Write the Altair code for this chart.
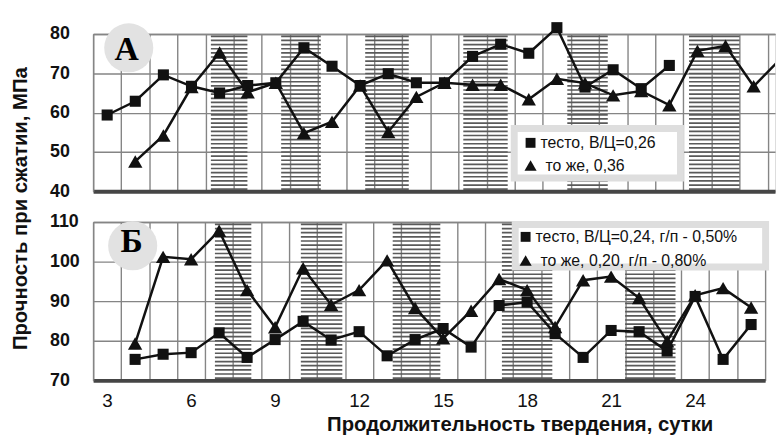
import altair as alt
import pandas as pd
import numpy as np

# ---------------- data ----------------
days_a_sq = list(range(3, 24))
a_sq = [59.4, 62.9, 69.6, 66.7, 65.0, 66.9, 67.6, 76.5, 71.8, 66.9, 69.9,
        67.6, 67.6, 74.3, 77.4, 75.1, 81.6, 66.5, 70.9, 66.1, 72.0]
days_a_tr = list(range(4, 28))
a_tr = [47.6, 54.2, 66.5, 75.3, 65.2, 67.6, 54.8, 57.7, 66.9, 55.1, 64.0, 67.6,
        67.1, 67.1, 63.4, 68.6, 67.5, 64.4, 65.5, 61.9, 75.7, 77.0, 66.7, 74.0]

days_b = list(range(4, 27))
b_sq = [75.3, 76.6, 77.0, 82.0, 75.8, 80.3, 84.9, 80.2, 82.3, 76.2, 80.3, 83.1,
        78.4, 88.9, 89.8, 81.8, 75.8, 82.6, 82.3, 77.4, 91.2, 75.3, 84.1]
b_tr = [79.3, 101.2, 100.6, 107.8, 92.8, 83.4, 98.3, 89.1, 92.8, 100.3, 88.3, 80.6,
        87.6, 95.6, 92.8, 83.5, 95.3, 96.2, 90.8, 79.9, 91.5, 93.3, 88.4]

legend_a = ["тесто, В/Ц=0,26", "то же, 0,36"]
legend_b = ["тесто, В/Ц=0,24, г/п - 0,50%", "то же, 0,20, г/п - 0,80%"]

bands_a = [(6.69, 7.99), (9.19, 10.6), (12.18, 13.73), (15.67, 17.25), (19.37, 20.81), (23.7, 25.5)]
bands_b = [(6.85, 8.15), (9.92, 11.4), (13.2, 14.9), (17.1, 18.9), (21.5, 23.3)]

x_labels = [3, 6, 9, 12, 15, 18, 21, 24]
y_ticks_a = [40, 50, 60, 70, 80]
y_ticks_b = [70, 80, 90, 100, 110]

y_title = "Прочность при сжатии, МПа"
x_title = "Продолжительность твердения, сутки"

FONT = "Liberation Sans"
GRID = "#858585"


def series_df(sq_days, sq_vals, tr_days, tr_vals):
    a = pd.DataFrame({"day": sq_days, "val": sq_vals, "series": "sq"})
    b = pd.DataFrame({"day": tr_days, "val": tr_vals, "series": "tr"})
    return pd.concat([a, b], ignore_index=True)


def panel(df, labels, bands, yticks, xmax, width, height, last_labels,
          circle_xy, letter, letter_xy, box, rows, ytitle=False):
    xs = alt.Scale(domain=[2.5, xmax], nice=False, zero=False)
    ys = alt.Scale(domain=[yticks[0], yticks[-1]], nice=False, zero=False)
    grid_vals = [2.5 + i for i in range(int(xmax - 2.5) + 1)]

    hatch_rows = []
    for (x0, x1) in bands:
        for y in np.arange(yticks[0] + 0.55, yticks[-1], 1.05):
            hatch_rows.append({"x": x0, "x2": x1, "y": float(y)})
    hatch_df = pd.DataFrame(hatch_rows)

    yaxis_kw = dict(orient="left", values=yticks, grid=True, gridColor=GRID, gridWidth=1.4,
                    ticks=False, tickSize=0, labelAlign="left", labelPadding=44,
                    labelFont=FONT, labelFontSize=18, labelFontWeight="bold",
                    labelColor="#111", labelBaseline="middle",
                    domainColor=GRID, domainWidth=1.4)
    if ytitle:
        yaxis_kw.update(title=y_title, titleX=-73, titleY=176, titleAngle=270,
                        titleAlign="center", titleBaseline="middle",
                        titleFont=FONT, titleFontSize=20.5, titleFontWeight="bold",
                        titleColor="#111")
    else:
        yaxis_kw.update(title=None)

    hatch = alt.Chart(hatch_df).mark_rule(color="#5a5a5a", strokeWidth=1.7).encode(
        x=alt.X("x:Q", scale=xs,
                axis=alt.Axis(orient="top", values=grid_vals, grid=True, gridColor=GRID,
                              gridWidth=1.4, labels=False, ticks=False, domainColor=GRID,
                              domainWidth=1.4, title=None)),
        x2="x2:Q",
        y=alt.Y("y:Q", scale=ys, axis=alt.Axis(**yaxis_kw)),
    )

    cdf = pd.DataFrame({"t": [letter]})
    circ = alt.Chart(cdf).mark_point(shape="circle", filled=True, color="#e2e2e2",
                                     opacity=1, size=2460).encode(
        x=alt.value(circle_xy[0]), y=alt.value(circle_xy[1]))
    let = alt.Chart(cdf).mark_text(font="Liberation Serif", fontSize=34, fontWeight="bold",
                                   color="#000", baseline="middle", align="center").encode(
        text="t:N", x=alt.value(letter_xy[0]), y=alt.value(letter_xy[1]))

    bottom_kw = dict(orient="bottom", values=x_labels, grid=False, ticks=False, tickSize=0,
                     domainColor="#454545", domainWidth=4, labels=last_labels,
                     labelFont=FONT, labelFontSize=19, labelColor="#111", labelPadding=11)
    if last_labels:
        bottom_kw.update(title=x_title, titleX=431, titleY=45, titleAlign="center",
                         titleBaseline="middle", titleFont=FONT, titleFontSize=20.5,
                         titleFontWeight="bold", titleColor="#111")
    else:
        bottom_kw.update(title=None)

    line_main = alt.Chart(df).mark_line(color="#111", strokeWidth=2.5).transform_filter(
        alt.datum.day <= 26).encode(
        x=alt.X("day:Q", scale=xs, axis=alt.Axis(**bottom_kw)),
        y=alt.Y("val:Q", scale=ys, axis=None),
        detail="series:N",
    )
    line_tail = alt.Chart(df).mark_line(color="#111", strokeWidth=2.5, clip=True).transform_filter(
        alt.datum.day >= 26).encode(
        x=alt.X("day:Q", scale=xs, axis=None),
        y=alt.Y("val:Q", scale=ys, axis=None),
        detail="series:N",
    )
    pts_sq = alt.Chart(df).mark_point(shape="square", filled=True, color="#111", opacity=1,
                                      size=125).transform_filter(
        (alt.datum.day <= xmax) & (alt.datum.series == "sq")).encode(
        x=alt.X("day:Q", scale=xs, axis=None),
        y=alt.Y("val:Q", scale=ys, axis=None),
    )
    pts_tr = alt.Chart(df).mark_point(shape="triangle-up", filled=True, color="#111", opacity=1,
                                      size=210).transform_filter(
        (alt.datum.day <= xmax) & (alt.datum.series == "tr")).encode(
        x=alt.X("day:Q", scale=xs, axis=None),
        y=alt.Y("val:Q", scale=ys, axis=None),
    )

    layers = [hatch, circ, let, line_main, line_tail, pts_sq, pts_tr]

    bx0, bx1, by0, by1 = box
    layers.append(alt.Chart(cdf).mark_rect(fill="white", stroke="#dedede", strokeWidth=7).encode(
        x=alt.value(bx0), x2=alt.value(bx1), y=alt.value(by0), y2=alt.value(by1)))
    for lab, shp, sz, (sx, sy, tx) in zip(labels, ["square", "triangle-up"], [100, 150], rows):
        ldf = pd.DataFrame({"t": [lab]})
        layers.append(alt.Chart(ldf).mark_point(shape=shp, filled=True, color="#111",
                                                opacity=1, size=sz).encode(
            x=alt.value(sx), y=alt.value(sy)))
        layers.append(alt.Chart(ldf).mark_text(font=FONT, fontSize=16, color="#111",
                                               align="left", baseline="middle").encode(
            text="t:N", x=alt.value(tx), y=alt.value(sy)))

    return alt.layer(*layers).resolve_axis(x="independent", y="independent").properties(
        width=width, height=height)


df_a = series_df(days_a_sq, a_sq, days_a_tr, a_tr)
df_b = series_df(days_b, b_sq, days_b, b_tr)

pa = panel(df_a, legend_a, bands_a, y_ticks_a, 26.76, 689, 159, False,
           (36, 14), "А", (34, 16), (425.5, 593.5, 95.5, 145.5),
           [(442, 110, 452), (442, 133, 457)], ytitle=True)
pb = panel(df_b, legend_b, bands_b, y_ticks_b, 26.5, 679, 160, True,
           (40, 24), "Б", (39, 20), (426.5, 679.5, 2.5, 45.5),
           [(437, 15, 447), (437, 39, 452)])

chart = alt.vconcat(pa, pb, spacing=31, bounds="flush").resolve_scale(
    x="independent", y="independent"
).properties(
    padding={"left": 2, "top": 11, "right": 0, "bottom": 0}
).configure_view(stroke=None).configure(font=FONT)

chart.save("out.html", embed_options={"renderer": "svg", "actions": False})
